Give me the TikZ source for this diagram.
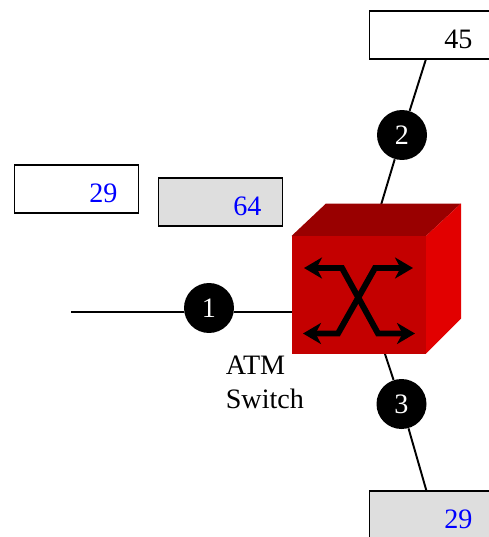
\documentclass[tikz,border=0pt]{standalone}
\usepackage{fontspec}
\setmainfont{Liberation Serif}
\usetikzlibrary{arrows.meta, positioning}
\definecolor{cubefront}{HTML}{C40000}
\definecolor{cubetop}{HTML}{990000}
\definecolor{cubeside}{HTML}{E20000}
\definecolor{cellgray}{HTML}{DEDEDE}
\definecolor{vciblue}{HTML}{0000FF}
\tikzset{
  labelfont/.style={font=\fontsize{16}{19.2}\selectfont},
  vcibox/.style={
    draw=black, fill=#1, line width=1.1pt, labelfont,
    minimum width=2.48cm, minimum height=0.95cm, inner sep=0pt,
    text width=1.64cm, align=right, text height=0.54cm, text depth=0cm
  },
  vcibox/.default=white,
  portnum/.style={
    circle, fill=black, text=white, labelfont,
    minimum size=1cm, inner sep=0pt
  },
  link/.style={line width=1.1pt, draw=black},
  swarr/.style={
    line width=3.4pt, draw=black, line join=miter,
    {Stealth[length=3.6mm, width=4.2mm, inset=1.1mm]}-{Stealth[length=3.6mm, width=4.2mm, inset=1.1mm]}
  }
}
\begin{document}
\begin{tikzpicture}[x=0.02cm, y=-0.02cm]
  \useasboundingbox (0,0) rectangle (489,537);
  \clip (0,0) rectangle (489,537);
  \node[vcibox, text=vciblue] (boxin) at (76.5,189) {29};
  \node[vcibox=cellgray, text=vciblue] (boxmid) at (220.5,202) {64};
  \node[vcibox] (boxtop) at (431.5,35) {45};
  \node[vcibox=cellgray, text=vciblue] (boxbot) at (431.5,515) {29};

  \node[portnum] (port1) at (209,308) {1};
  \node[portnum] (port2) at (402,135) {2};
  \node[portnum] (port3) at (401.5,404) {3};

  \coordinate (linkin) at (71,312);
  \coordinate (cubeleft) at (295,312);
  \coordinate (cubeup) at (381,205);
  \coordinate (cubedown) at (384,351);
  \coordinate (topend) at (426,59);
  \coordinate (botend) at (426.5,491);
  \draw[link] (linkin) -- (linkin -| port1.west);
  \draw[link] (linkin -| port1.east) -- (cubeleft);
  \draw[link] (topend) -- (port2) -- (cubeup);
  \draw[link] (botend) -- (port3) -- (cubedown);

  \fill[cubetop] (291.5,236) -- (326,203.5) -- (461,203.5) -- (426,236) -- cycle;
  \fill[cubeside] (426,236) -- (461,203.5) -- (461,318.5) -- (426,353.5) -- cycle;
  \fill[cubefront] (291.5,236) rectangle (426,353.5);

  \draw[swarr] (304,268) -- (342,268) -- (378,333.5) -- (415,333.5);
  \draw[swarr] (303,333.5) -- (338,333.5) -- (375,268) -- (413,268);

  \node[labelfont, align=left, anchor=north west, inner sep=0pt] (swlabel) at (225.5,356) {ATM\\Switch};
\end{tikzpicture}
\end{document}
